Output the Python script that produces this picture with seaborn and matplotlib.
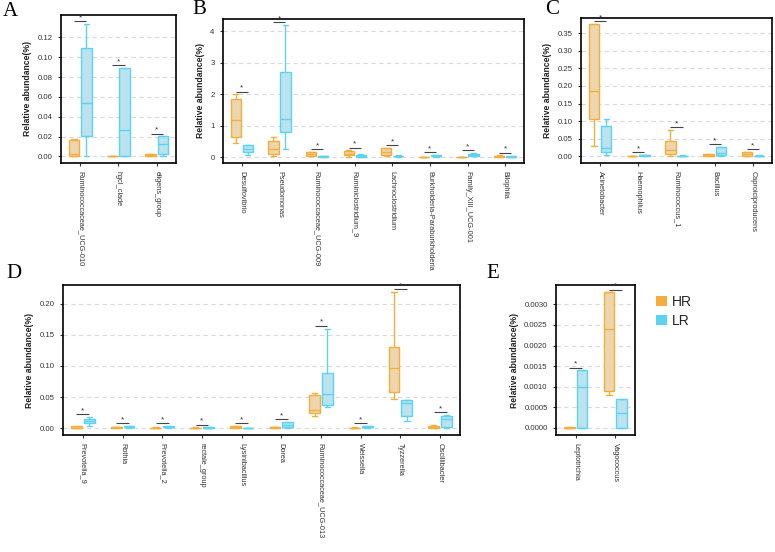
import numpy as np
import pandas as pd
import matplotlib
matplotlib.use("Agg")
import matplotlib.pyplot as plt
from matplotlib.patches import Patch
import seaborn as sns

# ---------------- data: five-number summaries (min, q1, median, q3, max) ----------------
cats_A = ["Ruminococcaceae_UCG-010", "hgcI_clade", "eligens_group"]
hr_A = [(0.0, 0.0005, 0.002, 0.0165, 0.0178),
        (0.0, 0.0001, 0.0002, 0.0004, 0.0005),
        (0.0, 0.0004, 0.001, 0.0024, 0.0026)]
lr_A = [(0.0, 0.0205, 0.0543, 0.109, 0.1335),
        (0.0, 0.0007, 0.0262, 0.0893, 0.0893),
        (0.0, 0.0025, 0.0122, 0.0203, 0.0203)]

cats_B = ["Desulfovibrio", "Pseudomonas", "Ruminococcaceae_UCG-009", "Ruminiclostridium_9",
          "Lachnoclostridium", "Burkholderia-Paraburkholderia", "Family_XIII_UCG-001", "Bilophila"]
hr_B = [(0.44, 0.635, 1.18, 1.85, 2.0),
        (0.04, 0.1, 0.25, 0.51, 0.635),
        (0.02, 0.03, 0.1, 0.16, 0.17),
        (0.01, 0.05, 0.1, 0.2, 0.21),
        (0.04, 0.06, 0.15, 0.29, 0.3),
        (0.005, 0.008, 0.01, 0.013, 0.015),
        (0.005, 0.008, 0.01, 0.013, 0.015),
        (0.0, 0.005, 0.02, 0.045, 0.05)]
lr_B = [(0.06, 0.15, 0.25, 0.37, 0.38),
        (0.26, 0.79, 1.2, 2.72, 4.2),
        (0.01, 0.015, 0.025, 0.035, 0.04),
        (0.0, 0.01, 0.03, 0.06, 0.1),
        (0.01, 0.02, 0.03, 0.045, 0.05),
        (0.01, 0.02, 0.04, 0.065, 0.07),
        (0.02, 0.03, 0.06, 0.1, 0.13),
        (0.005, 0.01, 0.015, 0.02, 0.025)]

cats_C = ["Acinetobacter", "Haemophilus", "Ruminococcus_1", "Bacillus", "Caproiciproducens"]
hr_C = [(0.0285, 0.1047, 0.1855, 0.376, 0.376),
        (0.0, 0.0003, 0.0006, 0.001, 0.0012),
        (0.001, 0.0057, 0.017, 0.0438, 0.076),
        (0.001, 0.002, 0.004, 0.006, 0.007),
        (0.0005, 0.001, 0.0057, 0.0114, 0.012)]
lr_C = [(0.005, 0.0124, 0.0228, 0.0866, 0.1047),
        (0.001, 0.002, 0.003, 0.004, 0.0045),
        (0.0005, 0.001, 0.0015, 0.002, 0.0025),
        (0.001, 0.004, 0.0086, 0.0266, 0.027),
        (0.0005, 0.001, 0.0015, 0.002, 0.0025)]

cats_D = ["Prevotella_9", "Rothia", "Prevotella_2", "rectale_group", "Lysinibacillus", "Dorea",
          "Ruminococcaceae_UCG-013", "Weissella", "Tyzzerella", "Oscillibacter"]
hr_D = [(0.0, 0.0005, 0.001, 0.003, 0.0032),
        (0.0005, 0.001, 0.0015, 0.002, 0.0025),
        (0.0, 0.0003, 0.0006, 0.001, 0.0012),
        (0.0, 0.0003, 0.0006, 0.001, 0.0012),
        (0.0, 0.0005, 0.0015, 0.003, 0.0032),
        (0.0005, 0.001, 0.0015, 0.002, 0.0025),
        (0.019, 0.0247, 0.029, 0.0525, 0.0557),
        (0.0, 0.0003, 0.0006, 0.001, 0.0012),
        (0.0467, 0.058, 0.097, 0.13, 0.219),
        (0.0, 0.0005, 0.0015, 0.004, 0.005)]
lr_D = [(0.004, 0.0075, 0.0107, 0.014, 0.0177),
        (0.001, 0.0015, 0.0025, 0.0035, 0.004),
        (0.001, 0.0015, 0.0025, 0.0035, 0.004),
        (0.0005, 0.0008, 0.001, 0.0013, 0.0015),
        (0.0, 0.0002, 0.0004, 0.0006, 0.0008),
        (0.001, 0.002, 0.005, 0.0097, 0.01),
        (0.034, 0.0375, 0.0547, 0.088, 0.16),
        (0.001, 0.0015, 0.002, 0.003, 0.0035),
        (0.0107, 0.0198, 0.04, 0.045, 0.046),
        (0.0, 0.002, 0.014, 0.0198, 0.021)]

cats_E = ["Leptotrichia", "Vagococcus"]
hr_E = [(0.0, 0.000005, 0.00001, 0.000015, 0.00002),
        (0.0008, 0.0009, 0.0024, 0.00329, 0.00329)]
lr_E = [(0.0, 0.0, 0.000995, 0.0014, 0.0014),
        (0.0, 0.0, 0.00036, 0.0007, 0.0007)]

groups = ["HR", "LR"]

# ---------------- style ----------------
sns.set_theme(style="white")
plt.rcParams["font.family"] = ["Liberation Sans", "DejaVu Sans"]

EDGE = {"HR": "#F3AE3D", "LR": "#5CD3F3"}
FACE = {"HR": "#F8D7A2", "LR": "#B2E8F8"}
LEG = {"HR": "#F3AE3D", "LR": "#5CD3F3"}

W, H = 775, 552
fig = plt.figure(figsize=(W / 100, H / 100), dpi=100)


def rect(l, r, t, b):
    return [l / W, 1 - b / H, (r - l) / W, (b - t) / H]


BOXW = 0.64
GAP = 0.15


def panel(pos, cats, hr, lr, ylim, yticks, fmt):
    ax = fig.add_axes(pos)
    rows = []
    for g, summ in (("HR", hr), ("LR", lr)):
        for c, s in zip(cats, summ):
            for v in s:
                rows.append({"genus": c, "group": g, "value": v})
    df = pd.DataFrame(rows)
    for g in groups:
        sub = df[df["group"] == g]
        sns.boxplot(data=sub, x="genus", y="value", hue="group", hue_order=groups,
                    order=cats, palette=FACE, linecolor=EDGE[g], linewidth=1.0,
                    width=BOXW, gap=GAP, whis=np.inf, dodge=True, legend=False,
                    showfliers=False, ax=ax)
    ax.set_xlim(-0.5, len(cats) - 0.5)
    ax.set_ylim(*ylim)
    ax.set_yticks(yticks)
    ax.set_yticklabels([fmt.format(t) for t in yticks])
    span = ylim[1] - ylim[0]
    # significance bars
    for i, c in enumerate(cats):
        top = df.loc[df["genus"] == c, "value"].max() + 0.018 * span
        ax.plot([i - BOXW / 4, i + BOXW / 4], [top, top], color="#444444", lw=0.8,
                solid_capstyle="butt", zorder=5)
        ax.text(i, top, "*", ha="center", va="bottom", fontsize=6, color="#333333", zorder=5)
    ax.yaxis.grid(True, linestyle=(0, (4, 3)), color="#d9d9d9", linewidth=0.8)
    ax.set_axisbelow(True)
    ax.set_xlabel("")
    ax.set_ylabel("Relative abundance(%)", fontsize=6.2, fontweight="bold", color="#222222")
    ax.tick_params(axis="both", which="both", length=2.5, width=0.8, color="#333333",
                   labelsize=5.6, labelcolor="#333333", bottom=True, left=True)
    ax.tick_params(axis="x", labelsize=5.3)
    for lab in ax.get_xticklabels():
        lab.set_rotation(270)
        lab.set_ha("center")
        lab.set_va("top")
    for sp in ax.spines.values():
        sp.set_visible(True)
        sp.set_color("black")
        sp.set_linewidth(1.2)
    return ax


panel(rect(61, 176, 15, 163), cats_A, hr_A, lr_A, (-0.0067, 0.1426),
      np.arange(0, 0.1201, 0.02), "{:.2f}")
panel(rect(223, 524, 19, 163), cats_B, hr_B, lr_B, (-0.19, 4.39),
      [0, 1, 2, 3, 4], "{:.0f}")
panel(rect(581, 772, 18, 163), cats_C, hr_C, lr_C, (-0.019, 0.393),
      np.arange(0, 0.3501, 0.05), "{:.2f}")
panel(rect(63, 460, 285, 435), cats_D, hr_D, lr_D, (-0.011, 0.23),
      np.arange(0, 0.2001, 0.05), "{:.2f}")
panel(rect(556, 635, 285, 435), cats_E, hr_E, lr_E, (-0.00017, 0.00347),
      np.arange(0, 0.00301, 0.0005), "{:.4f}")

# panel letters
for lbl, x, y in [("A", 3, 11), ("B", 192, 9), ("C", 545, 10), ("D", 6, 273), ("E", 486, 274)]:
    fig.text(x / W, 1 - y / H, lbl, fontsize=15, family="Liberation Serif",
             ha="left", va="center", color="black")

handles = [Patch(facecolor=LEG[g], edgecolor="none", label=g) for g in groups]
fig.legend(handles=handles, loc="upper left", bbox_to_anchor=(656 / W, 1 - 295 / H),
           frameon=False, fontsize=10, handlelength=0.8, handleheight=0.8,
           handletextpad=0.35, labelspacing=0.35, borderaxespad=0, borderpad=0)

fig.savefig("out.png", dpi=100)
